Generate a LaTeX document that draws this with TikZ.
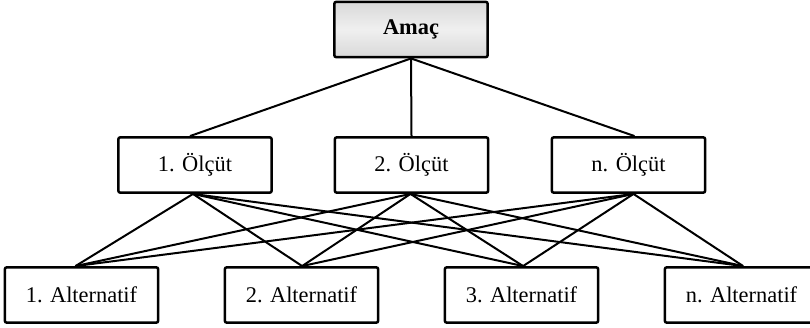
\documentclass[tikz,border=0pt]{standalone}
\usepackage{fontspec}
\setmainfont{Liberation Serif}
\begin{document}
\begin{tikzpicture}[x=0.75pt,y=-0.75pt,
  box/.style={draw=black,line width=1.9pt,rounded corners=1.5pt,minimum width=115pt,minimum height=41.5pt,inner sep=0pt,font=\fontsize{16.8}{19}\selectfont},
  goal/.style={box,top color=gray!30,bottom color=gray!30,middle color=gray!12,font=\fontsize{16.8}{19}\selectfont\bfseries},
  link/.style={line width=1.5pt}]
\useasboundingbox (0,0) rectangle (810,328);
\node[goal] (goal) at (411,29.5) {Amaç};
\node[box] (c1) at (195,165) {1. Ölçüt};
\node[box] (c2) at (411.5,165) {2. Ölçüt};
\node[box] (cn) at (628.5,165) {n. Ölçüt};
\node[box] (a1) at (81.5,295) {1. Alternatif};
\node[box] (a2) at (301.5,295) {2. Alternatif};
\node[box] (a3) at (521.5,295) {3. Alternatif};
\node[box] (an) at (741.5,295) {n. Alternatif};
\draw[link] (goal.south) -- ([xshift=-3.75pt]c1.north);
\draw[link] (goal.south) -- (c2.north);
\draw[link] (goal.south) -- ([xshift=4.5pt]cn.north);
\foreach \c/\cs in {c1/-1.5pt,c2/-0.75pt,cn/3.75pt}{
  \draw[link] ([xshift=\cs]\c.south) -- ([xshift=-4.5pt]a1.north);
  \draw[link] ([xshift=\cs]\c.south) -- ([xshift=0.5pt]a2.north);
  \draw[link] ([xshift=\cs]\c.south) -- ([xshift=1.2pt]a3.north);
  \draw[link] ([xshift=\cs]\c.south) -- ([xshift=1.2pt]an.north);
}
\end{tikzpicture}
\end{document}
